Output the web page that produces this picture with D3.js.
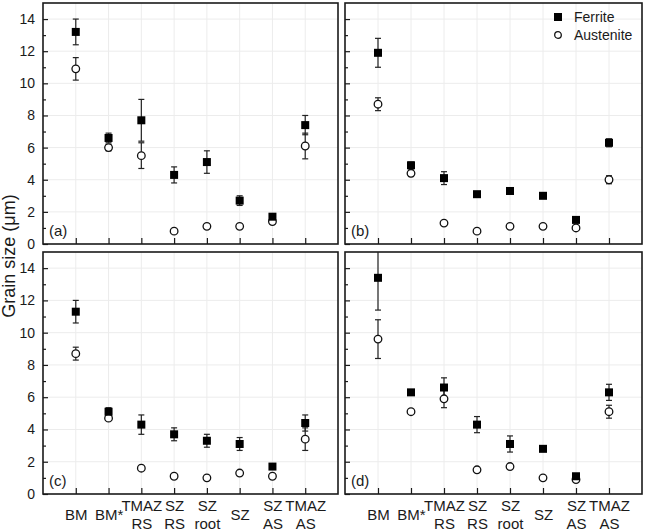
<!DOCTYPE html>
<html>
<head>
<meta charset="utf-8">
<script src="https://cdn.jsdelivr.net/npm/d3@7"></script>
<style>
  body { margin: 0; background: #fff; }
  svg { font-family: "Liberation Sans", Arial, sans-serif; }
</style>
</head>
<body>
<svg id="chart" width="645" height="532"></svg>
<script>
// categories (multi-line labels split by "|")
var categories = ["BM", "BM*", "TMAZ|RS", "SZ|RS", "SZ|root", "SZ", "SZ|AS", "TMAZ|AS"];
var yTicks = [0, 2, 4, 6, 8, 10, 12, 14];
var yMinor = [1, 3, 5, 7, 9, 11, 13];

// panel (a)
var ferriteA      = [13.2, 6.6, 7.7, 4.3, 5.1, 2.7, 1.7, 7.4];
var ferriteErrA   = [0.8, 0.3, 1.3, 0.5, 0.7, 0.3, 0.1, 0.6];
var austeniteA    = [10.9, 6.0, 5.5, 0.8, 1.1, 1.1, 1.4, 6.1];
var austeniteErrA = [0.7, 0.2, 0.8, 0.1, 0.1, 0.1, 0.1, 0.8];

// panel (b)
var ferriteB      = [11.9, 4.9, 4.1, 3.1, 3.3, 3.0, 1.5, 6.3];
var ferriteErrB   = [0.9, 0.2, 0.4, 0.1, 0.1, 0.1, 0.1, 0.25];
var austeniteB    = [8.7, 4.4, 1.3, 0.8, 1.1, 1.1, 1.0, 4.0];
var austeniteErrB = [0.4, 0.2, 0.1, 0.1, 0.1, 0.1, 0.1, 0.25];

// panel (c)
var ferriteC      = [11.3, 5.1, 4.3, 3.7, 3.3, 3.1, 1.7, 4.4];
var ferriteErrC   = [0.7, 0.25, 0.6, 0.4, 0.4, 0.4, 0.1, 0.5];
var austeniteC    = [8.7, 4.7, 1.6, 1.1, 1.0, 1.3, 1.1, 3.4];
var austeniteErrC = [0.4, 0.1, 0.1, 0.1, 0.1, 0.1, 0.1, 0.7];

// panel (d)
var ferriteD      = [13.4, 6.3, 6.6, 4.3, 3.1, 2.8, 1.1, 6.3];
var ferriteErrD   = [2.0, 0.1, 0.6, 0.5, 0.5, 0.1, 0.1, 0.5];
var austeniteD    = [9.6, 5.1, 5.9, 1.5, 1.7, 1.0, 0.9, 5.1];
var austeniteErrD = [1.2, 0.1, 0.55, 0.1, 0.1, 0.1, 0.1, 0.4];

var panels = [
  {label: "(a)", x: 43,  y: 3,   w: 295, h: 241, yLabels: true,  xLabels: false, f: ferriteA, fe: ferriteErrA, a: austeniteA, ae: austeniteErrA},
  {label: "(b)", x: 345, y: 3,   w: 297, h: 241, yLabels: false, xLabels: false, f: ferriteB, fe: ferriteErrB, a: austeniteB, ae: austeniteErrB, legend: true},
  {label: "(c)", x: 43,  y: 252, w: 295, h: 242, yLabels: true,  xLabels: true,  f: ferriteC, fe: ferriteErrC, a: austeniteC, ae: austeniteErrC},
  {label: "(d)", x: 345, y: 252, w: 297, h: 242, yLabels: false, xLabels: true,  f: ferriteD, fe: ferriteErrD, a: austeniteD, ae: austeniteErrD}
];

var svg = d3.select("#chart");
var ink = "#1a1a1a";

panels.forEach(function(p, pi) {
  var x = d3.scaleLinear().domain([0, categories.length + 1]).range([0, p.w]);
  var y = d3.scaleLinear().domain([0, 15]).range([p.h, 0]);

  var clipId = "clip" + pi;
  svg.append("clipPath").attr("id", clipId)
    .append("rect").attr("x", p.x).attr("y", p.y).attr("width", p.w).attr("height", p.h);

  var g = svg.append("g").attr("transform", "translate(" + p.x + "," + p.y + ")");

  // grid
  g.append("g").selectAll("line.vg")
    .data(categories)
    .enter().append("line")
      .attr("x1", function(d, i) { return x(i + 1); })
      .attr("x2", function(d, i) { return x(i + 1); })
      .attr("y1", 0).attr("y2", p.h)
      .attr("stroke", "#ececec").attr("stroke-width", 1);
  g.append("g").selectAll("line.hg")
    .data(yTicks.slice(1))
    .enter().append("line")
      .attr("x1", 0).attr("x2", p.w)
      .attr("y1", function(d) { return y(d); })
      .attr("y2", function(d) { return y(d); })
      .attr("stroke", "#ececec").attr("stroke-width", 1);

  // y axis major + minor (inward ticks)
  var yAx = g.append("g")
    .call(d3.axisLeft(y).tickValues(yTicks).tickSizeInner(-5).tickSizeOuter(0).tickPadding(8)
      .tickFormat(p.yLabels ? d3.format("d") : ""));
  yAx.select(".domain").remove();
  yAx.selectAll("text").attr("font-size", 14).attr("fill", ink).attr("font-family", "Liberation Sans, Arial, sans-serif");
  yAx.selectAll("line").attr("stroke", ink).attr("stroke-width", 1.2);

  var yMin = g.append("g")
    .call(d3.axisLeft(y).tickValues(yMinor).tickSizeInner(-3).tickSizeOuter(0).tickFormat(""));
  yMin.select(".domain").remove();
  yMin.selectAll("line").attr("stroke", ink).attr("stroke-width", 1.2);

  // x axis (inward ticks)
  var xAx = g.append("g")
    .attr("transform", "translate(0," + p.h + ")")
    .call(d3.axisBottom(x).tickValues(d3.range(1, categories.length + 1)).tickSizeInner(-6).tickSizeOuter(0)
      .tickFormat(""));
  xAx.select(".domain").remove();
  xAx.selectAll("line").attr("stroke", ink).attr("stroke-width", 1.2);

  if (p.xLabels) {
    xAx.selectAll(".tick text").each(function(d) {
      var parts = categories[d - 1].split("|");
      var t = d3.select(this)
        .attr("font-size", 15).attr("fill", ink)
        .attr("font-family", "Liberation Sans, Arial, sans-serif")
        .attr("y", 0).attr("dy", null);
      if (parts.length === 1) {
        t.append("tspan").attr("x", 0).attr("y", 26).text(parts[0]);
      } else {
        t.append("tspan").attr("x", 0).attr("y", 17).text(parts[0]);
        t.append("tspan").attr("x", 0).attr("y", 35).text(parts[1]);
      }
    });
  }

  // marks
  var marks = svg.append("g").attr("clip-path", "url(#" + clipId + ")")
    .append("g").attr("transform", "translate(" + p.x + "," + p.y + ")");

  function errBars(vals, errs) {
    var eb = marks.append("g").selectAll("g")
      .data(vals)
      .enter().append("g")
      .attr("stroke", "#222").attr("stroke-width", 1.2);
    eb.append("line")
      .attr("x1", function(d, i) { return x(i + 1); })
      .attr("x2", function(d, i) { return x(i + 1); })
      .attr("y1", function(d, i) { return y(d + errs[i]); })
      .attr("y2", function(d, i) { return y(d - errs[i]); });
    [1, -1].forEach(function(s) {
      eb.append("line")
        .attr("x1", function(d, i) { return x(i + 1) - 3; })
        .attr("x2", function(d, i) { return x(i + 1) + 3; })
        .attr("y1", function(d, i) { return y(d + s * errs[i]); })
        .attr("y2", function(d, i) { return y(d + s * errs[i]); });
    });
  }

  errBars(p.a, p.ae);
  errBars(p.f, p.fe);

  marks.append("g").selectAll("circle")
    .data(p.a)
    .enter().append("circle")
      .attr("cx", function(d, i) { return x(i + 1); })
      .attr("cy", function(d) { return y(d); })
      .attr("r", 3.8)
      .attr("fill", "#fff").attr("stroke", "#111").attr("stroke-width", 1.3);

  marks.append("g").selectAll("rect")
    .data(p.f)
    .enter().append("rect")
      .attr("x", function(d, i) { return x(i + 1) - 4; })
      .attr("y", function(d) { return y(d) - 4; })
      .attr("width", 8).attr("height", 8)
      .attr("fill", "#000");

  // frame
  g.append("rect")
    .attr("width", p.w).attr("height", p.h)
    .attr("fill", "none").attr("stroke", ink).attr("stroke-width", 1.6);

  // panel label
  g.append("text")
    .attr("x", 6).attr("y", p.h - 8)
    .attr("font-size", 15).attr("fill", ink)
    .text(p.label);

  if (p.legend) {
    var lg = g.append("g").attr("transform", "translate(" + (p.w - 84) + ",0)");
    lg.append("rect").attr("x", -4).attr("y", 10).attr("width", 8).attr("height", 8).attr("fill", "#000");
    lg.append("text").attr("x", 16).attr("y", 19).attr("font-size", 14).attr("fill", ink).text("Ferrite");
    lg.append("circle").attr("cx", 0).attr("cy", 32).attr("r", 3.3)
      .attr("fill", "#fff").attr("stroke", "#111").attr("stroke-width", 1.3);
    lg.append("text").attr("x", 16).attr("y", 37).attr("font-size", 14).attr("fill", ink).text("Austenite");
  }
});

// y axis title
svg.append("text")
  .attr("transform", "translate(15,256) rotate(-90)")
  .attr("text-anchor", "middle")
  .attr("font-size", 18).attr("fill", ink)
  .text("Grain size (\u03BCm)");
</script>
</body>
</html>
